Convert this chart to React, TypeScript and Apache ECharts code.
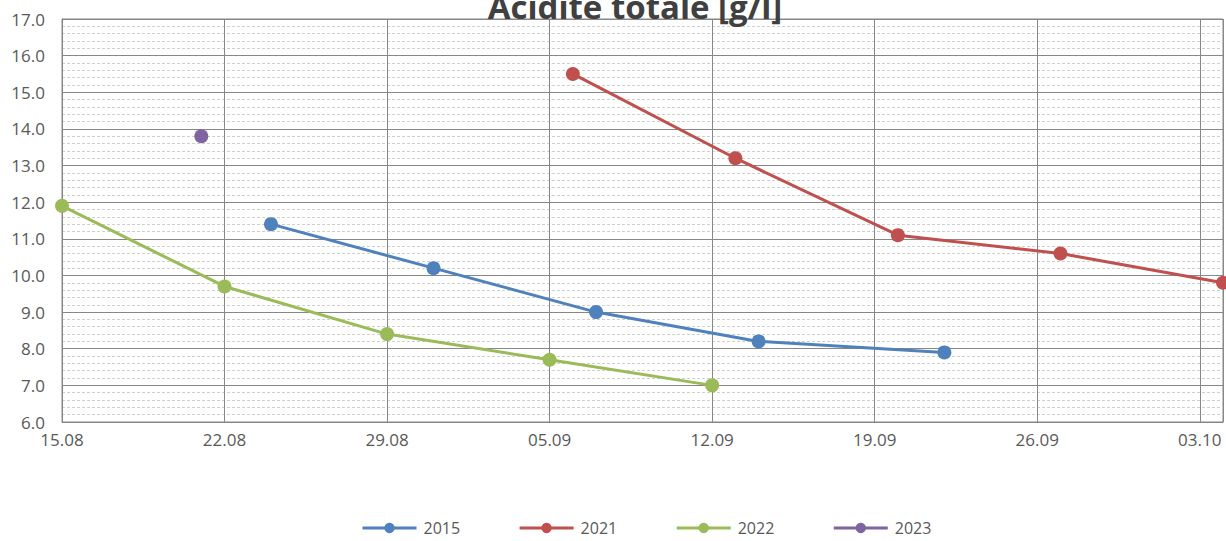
import React, { useEffect, useRef } from "react";
import * as echarts from "echarts";

// x values are days since 15.08
const xTickLabels = ["15.08", "22.08", "29.08", "05.09", "12.09", "19.09", "26.09", "03.10", "10.10"];
const seriesNames = ["2015", "2021", "2022", "2023"];
const days2015 = [9, 16, 23, 30, 38];
const vals2015 = [11.4, 10.2, 9.0, 8.2, 7.9];
const days2021 = [22, 29, 36, 43, 50];
const vals2021 = [15.5, 13.2, 11.1, 10.6, 9.8];
const days2022 = [0, 7, 14, 21, 28];
const vals2022 = [11.9, 9.7, 8.4, 7.7, 7.0];
const days2023 = [6];
const vals2023 = [13.8];
const colors = ["#4F81BD", "#C0504D", "#9BBB59", "#8064A2"];

const pair = (xs: number[], ys: number[]) => xs.map((x, i) => [x, ys[i]]);

export default function App() {
  const ref = useRef<HTMLDivElement>(null);
  useEffect(() => {
    const chart = echarts.init(ref.current!, undefined, { renderer: "svg" });
    const data = [pair(days2015, vals2015), pair(days2021, vals2021), pair(days2022, vals2022), pair(days2023, vals2023)];
    chart.setOption({
      animation: false,
      color: colors,
      title: {
        text: "Acidité totale [g/l]",
        left: 630,
        textAlign: "center",
        top: -15,
        textStyle: { fontFamily: "Open Sans", fontSize: 33, fontWeight: "bold", color: "#404040" },
      },
      grid: { left: 62, top: 19, right: 3, bottom: 119, show: true, borderColor: "#878787", borderWidth: 1 },
      xAxis: {
        type: "value",
        min: 0,
        max: 50,
        interval: 7,
        axisLine: { show: true, lineStyle: { color: "#878787" } },
        axisTick: { show: false },
        splitLine: { show: true, lineStyle: { color: "#878787", width: 1 } },
        axisLabel: {
          color: "#595959",
          fontFamily: "Open Sans",
          fontSize: 17,
          margin: 9,
          formatter: (v: number) => xTickLabels[Math.round(v / 7)] ?? "",
          showMaxLabel: false,
        },
      },
      yAxis: {
        type: "value",
        min: 6,
        max: 17,
        interval: 1,
        axisLine: { show: true, lineStyle: { color: "#878787" } },
        axisTick: { show: false },
        splitLine: { show: true, lineStyle: { color: "#878787", width: 1 } },
        minorTick: { show: false, splitNumber: 5 },
        minorSplitLine: { show: true, lineStyle: { color: "#cfcfcf", type: [3, 2], width: 1 } },
        axisLabel: {
          color: "#595959",
          fontFamily: "Open Sans",
          fontSize: 17,
          margin: 17,
          formatter: (v: number) => v.toFixed(1),
        },
      },
      legend: {
        top: 514,
        left: 356,
        itemWidth: 54,
        itemHeight: 13,
        itemGap: 58,
        lineStyle: { width: 3 },
        textStyle: { color: "#595959", fontFamily: "Open Sans", fontSize: 16, lineHeight: 18, padding: [0, 0, 0, 2] },
        data: seriesNames,
      },
      series: seriesNames.map((name, i) => ({
        name,
        type: "line",
        data: data[i],
        symbol: "circle",
        symbolSize: 14,
        lineStyle: { width: 3 },
        clip: false,
      })),
    });
    return () => chart.dispose();
  }, []);
  return <div ref={ref} style={{ position: "absolute", left: 0, top: 0, width: 1226, height: 541 }} />;
}
